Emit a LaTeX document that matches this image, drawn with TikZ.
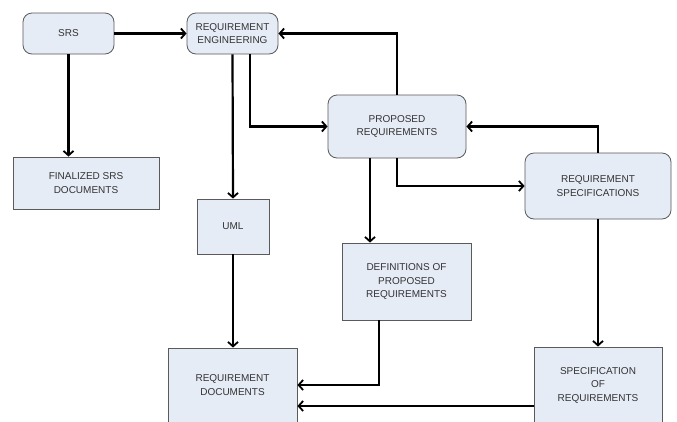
\documentclass[tikz,border=0pt]{standalone}
\usepackage{fontspec}
\setmainfont{Liberation Sans}
\usetikzlibrary{arrows.meta}
\definecolor{boxfill}{HTML}{E6ECF6}
\definecolor{boxline}{HTML}{5A5A5A}
\definecolor{txt}{HTML}{333333}
\begin{document}
\begin{tikzpicture}[x=1pt,y=-1pt,
  box/.style={draw=boxline, fill=boxfill, line width=0.8pt, text=txt,
    font=\fontsize{10}{13.5}\selectfont, align=center, inner sep=0pt},
  rbox/.style={box, rounded corners=9pt},
  conn/.style={line width=2.2pt, -{Straight Barb[length=4.5pt,width=10pt,line width=1.8pt]}}]
\useasboundingbox (0,0) rectangle (677,421);
\clip (0,0) rectangle (677,421);
\fill[white] (0,0) rectangle (677,421);
\node[rbox, minimum width=91pt, minimum height=41pt] (srs) at (68.5,33.5) {SRS};
\node[rbox, minimum width=91pt, minimum height=41pt] (re) at (232.5,33.5) {REQUIREMENT\\ENGINEERING};
\node[box, minimum width=146pt, minimum height=52pt] (fin) at (86,183) {FINALIZED SRS\\DOCUMENTS};
\node[box, minimum width=72pt, minimum height=55pt] (uml) at (233,226.5) {UML};
\node[rbox, minimum width=138pt, minimum height=63pt] (pr) at (397,126.5) {PROPOSED\\REQUIREMENTS};
\node[rbox, minimum width=146pt, minimum height=66pt] (rs) at (598,186) {REQUIREMENT\\SPECIFICATIONS};
\node[box, minimum width=129pt, minimum height=77pt] (def) at (406.5,281.5) {DEFINITIONS OF\\PROPOSED\\REQUIREMENTS};
\node[box, minimum width=129pt, minimum height=74pt] (rd) at (232.5,385) {REQUIREMENT\\DOCUMENTS};
\node[box, minimum width=128pt, minimum height=76pt] (sor) at (598,385) {SPECIFICATION\\OF\\REQUIREMENTS};
\draw[conn] (srs.south) -- (srs.south |- fin.north);
\draw[conn] (srs.east) -- (re.west);
\draw[conn] (re.south) -- (uml.north);
\draw[conn] ([xshift=17.5pt]re.south) |- (pr.west);
\draw[conn] (pr.north) |- (re.east);
\draw[conn] ([xshift=-27pt]pr.south) -- ([xshift=-27pt]pr.south |- def.north);
\draw[conn] (pr.south) |- (rs.west);
\draw[conn] (rs.north) |- (pr.east);
\draw[conn] (rs.south) -- (sor.north);
\draw[conn] (uml.south) -- (uml.south |- rd.north);
\draw[conn] ([xshift=-27.5pt]def.south) |- (rd.east);
\draw[conn] ([yshift=-21pt]sor.west) -- ([yshift=-21pt]sor.west -| rd.east);
\end{tikzpicture}
\end{document}
